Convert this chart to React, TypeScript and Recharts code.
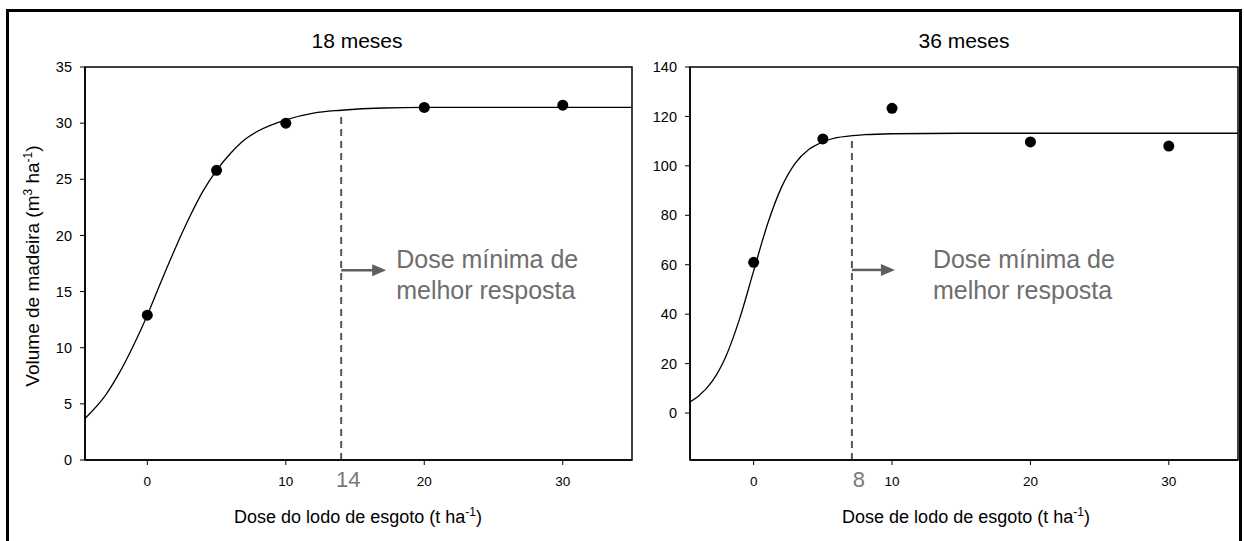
import { ComposedChart, Line, Scatter, XAxis, YAxis, ReferenceLine, ReferenceArea, ReferenceDot } from 'recharts';

// observed points (dose in t/ha, volume in m3/ha)
const doses = [0, 5, 10, 20, 30];
const volume18 = [12.9, 25.8, 30.0, 31.4, 31.6];
const volume36 = [61, 110.9, 123.3, 109.7, 108];

// fitted curves
const fitDose18 = [-4.5, -3, -2, -1, 0, 1, 2, 3, 4, 5, 6, 7, 8, 10, 12, 14, 17, 20, 25, 30, 35];
const fitVolume18 = [3.7, 5.8, 7.8, 10.2, 12.9, 15.9, 18.8, 21.5, 23.9, 25.8, 27.3, 28.5, 29.3, 30.3, 30.9, 31.15, 31.35, 31.4, 31.4, 31.4, 31.4];
const fitDose36 = [-4.6, -4, -3, -2, -1, 0, 1, 2, 3, 4, 5, 6, 8, 10, 15, 20, 25, 30, 35];
const fitVolume36 = [4.5, 6.8, 12.8, 23, 38.4, 57.5, 76.4, 91.2, 101, 106.7, 109.7, 111.4, 112.6, 113, 113.2, 113.2, 113.2, 113.2, 113.2];

// minimum dose of best response
const cutDose18 = 14;
const cutLabel18 = '14';
const cutDose36 = 7.1;
const cutLabel36 = '8';

const xTicks = [0, 10, 20, 30];
const yTicks18 = [0, 5, 10, 15, 20, 25, 30, 35];
const yTicks36 = [0, 20, 40, 60, 80, 100, 120, 140];

const FONT = '"Liberation Sans", Arial, sans-serif';
const GREY = '#6e6e6e';

const toRows = (xs: number[], ys: number[]) => xs.map((x, i) => ({ x, y: ys[i] }));

const DoseTick = (props: any) => {
  const { x, y, payload, cut, cutLabel } = props;
  if (payload.value === cut) {
    return (
      <text x={x + 7} y={y + 20} textAnchor="middle" fontSize={22} fill="#7a7a7a">
        {cutLabel}
      </text>
    );
  }
  return (
    <g>
      <line x1={x} x2={x} y1={y - 7} y2={y - 2} stroke="#000" />
      <text x={x} y={y + 19} textAnchor="middle" fontSize={13.5} fill="#000">
        {payload.value}
      </text>
    </g>
  );
};

const Note = (props: any) => {
  const { cx, cy, arrowLen, textDx } = props;
  return (
    <g>
      <line x1={cx} y1={cy} x2={cx + arrowLen - 12} y2={cy} stroke="#5f5f5f" strokeWidth={2.5} />
      <polygon
        points={`${cx + arrowLen - 14},${cy - 6} ${cx + arrowLen},${cy} ${cx + arrowLen - 14},${cy + 6}`}
        fill="#5f5f5f"
      />
      <text x={cx + textDx} y={cy - 2} fontSize={25} fill={GREY}>Dose mínima de</text>
      <text x={cx + textDx} y={cy + 29} fontSize={25} fill={GREY}>melhor resposta</text>
    </g>
  );
};

const Dot = (props: any) => <circle cx={props.cx} cy={props.cy} r={5.5} fill="#000" />;

interface PanelProps {
  width: number;
  left: number;
  right: number;
  yWidth: number;
  xDomain: [number, number];
  yDomain: [number, number];
  yTicks: number[];
  fit: { x: number; y: number }[];
  points: { x: number; y: number }[];
  cut: number;
  cutLabel: string;
  dashTop: number;
  arrowY: number;
  arrowLen: number;
  textDx: number;
}

const Panel = (p: PanelProps) => (
  <ComposedChart width={p.width} height={541} margin={{ top: 67, right: p.right, bottom: 31, left: p.left }}>
    <XAxis
      type="number"
      dataKey="x"
      domain={p.xDomain}
      ticks={[...xTicks, p.cut].sort((a, b) => a - b)}
      interval={0}
      allowDataOverflow
      height={50}
      tickSize={5}
      tickMargin={2}
      tickLine={false}
      axisLine={{ stroke: '#000', strokeWidth: 1.5 }}
      tick={<DoseTick cut={p.cut} cutLabel={p.cutLabel} />}
    />
    <YAxis
      type="number"
      dataKey="y"
      domain={p.yDomain}
      ticks={p.yTicks}
      interval={0}
      allowDataOverflow
      width={p.yWidth}
      tickSize={5}
      tickMargin={8}
      tickLine={{ stroke: '#000' }}
      axisLine={{ stroke: '#000', strokeWidth: 1.5 }}
      tick={{ fill: '#000', fontSize: 14.5 }}
    />
    <ReferenceArea
      x1={p.xDomain[0]}
      x2={p.xDomain[1]}
      y1={p.yDomain[0]}
      y2={p.yDomain[1]}
      fill="none"
      fillOpacity={0}
      stroke="#000"
      strokeWidth={1.5}
      ifOverflow="visible"
    />
    <ReferenceLine
      segment={[{ x: p.cut, y: p.yDomain[0] }, { x: p.cut, y: p.dashTop }]}
      stroke="#555"
      strokeWidth={2}
      strokeDasharray="7 5"
    />
    <ReferenceDot
      x={p.cut}
      y={p.arrowY}
      r={0}
      shape={(s: any) => <Note cx={s.cx} cy={s.cy} arrowLen={p.arrowLen} textDx={p.textDx} />}
    />
    <Line data={p.fit} dataKey="y" type="monotone" dot={false} stroke="#000" strokeWidth={1.3} isAnimationActive={false} />
    <Scatter data={p.points} dataKey="y" fill="#000" shape={Dot} isAnimationActive={false} />
  </ComposedChart>
);

export default function App() {
  return (
    <div style={{ position: 'absolute', left: 0, top: 0, width: 1244, height: 541, background: '#fff', fontFamily: FONT, overflow: 'hidden' }}>
      <div style={{ position: 'absolute', left: 0, top: 0 }}>
        <Panel
          width={640}
          left={25}
          right={8}
          yWidth={60}
          xDomain={[-4.5, 35]}
          yDomain={[0, 35]}
          yTicks={yTicks18}
          fit={toRows(fitDose18, fitVolume18)}
          points={toRows(doses, volume18)}
          cut={cutDose18}
          cutLabel={cutLabel18}
          dashTop={30.8}
          arrowY={16.9}
          arrowLen={45}
          textDx={55}
        />
      </div>
      <div style={{ position: 'absolute', left: 640, top: 0 }}>
        <Panel
          width={604}
          left={0}
          right={6}
          yWidth={50}
          xDomain={[-4.6, 35]}
          yDomain={[-19, 140]}
          yTicks={yTicks36}
          fit={toRows(fitDose36, fitVolume36)}
          points={toRows(doses, volume36)}
          cut={cutDose36}
          cutLabel={cutLabel36}
          dashTop={111.5}
          arrowY={57.9}
          arrowLen={43}
          textDx={81}
        />
      </div>
      <svg width={1244} height={541} style={{ position: 'absolute', left: 0, top: 0, pointerEvents: 'none' }}>
        <rect x={7.5} y={10.5} width={1233} height={560} fill="none" stroke="#000" strokeWidth={3} />
        <text x={357} y={48} textAnchor="middle" fontSize={21} fill="#000">18 meses</text>
        <text x={964} y={48} textAnchor="middle" fontSize={21} fill="#000">36 meses</text>
        <text x={358} y={523} textAnchor="middle" fontSize={18} fill="#000">
          Dose do lodo de esgoto (t ha<tspan dy={-7} fontSize={12}>-1</tspan><tspan dy={7}>)</tspan>
        </text>
        <text x={966} y={523} textAnchor="middle" fontSize={18} fill="#000">
          Dose de lodo de esgoto (t ha<tspan dy={-7} fontSize={12}>-1</tspan><tspan dy={7}>)</tspan>
        </text>
        <text transform="translate(39 266) rotate(-90)" textAnchor="middle" fontSize={19} fill="#000">
          Volume de madeira (m<tspan dy={-7} fontSize={12}>3</tspan><tspan dy={7}> ha</tspan>
          <tspan dy={-7} fontSize={12}>-1</tspan><tspan dy={7}>)</tspan>
        </text>
      </svg>
    </div>
  );
}
